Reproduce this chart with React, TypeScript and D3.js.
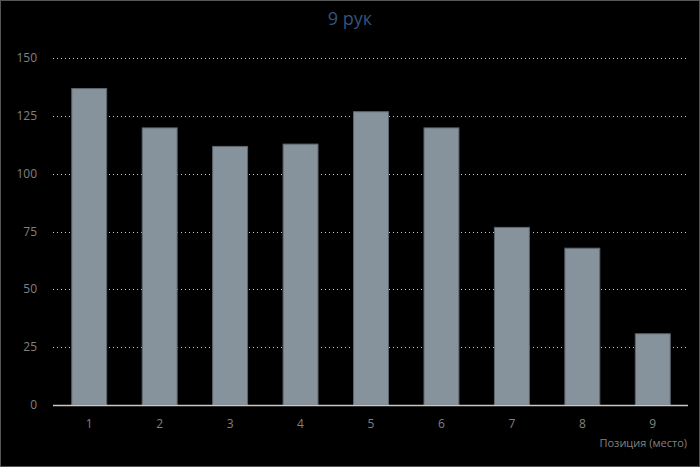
import React from "react";
import * as d3 from "d3";

const categories = ["1", "2", "3", "4", "5", "6", "7", "8", "9"];
const values = [137, 120, 112, 113, 127, 120, 77, 68, 31];
const yTicks = [0, 25, 50, 75, 100, 125, 150];
const title = "9 рук";
const xTitle = "Позиция (место)";

export default function App() {
  const W = 700, H = 467;
  const x = d3.scaleBand<string>().domain(categories).range([54, 688]).paddingInner(0.49).paddingOuter(0.245);
  const y = d3.scaleLinear().domain([0, 150]).range([405, 58]);
  const font = "'Open Sans', 'DejaVu Sans', sans-serif";
  return (
    <svg width={W} height={H} style={{ position: "absolute", left: 0, top: 0, display: "block" }}>
      <rect x={0} y={0} width={W} height={H} fill="#000" />
      <rect x={0.5} y={0.5} width={W - 1} height={H - 1} fill="none" stroke="#555" />
      <text x={350} y={25} textAnchor="middle" fill="#36527a" fontFamily={font} fontSize={18}>{title}</text>
      {yTicks.filter(t => t > 0).map(t => (
        <line key={t} x1={53} x2={686} y1={Math.round(y(t)) + 0.5} y2={Math.round(y(t)) + 0.5}
          stroke="#c8c8c8" strokeDasharray="1,3" strokeWidth={1} />
      ))}
      {yTicks.map(t => (
        <text key={"l" + t} x={37} y={y(t) + 4} textAnchor="end" fill="#808080" fontFamily={font} fontSize={12}>{t}</text>
      ))}
      {categories.map((c, i) => (
        <rect key={c} x={(x(c) as number) + 0.5} y={y(values[i]) + 0.5} width={x.bandwidth() - 1}
          height={405 - y(values[i]) - 0.5} fill="#87939c" stroke="#5f676e" strokeWidth={1} />
      ))}
      <line x1={53} x2={688} y1={405.5} y2={405.5} stroke="#c8c8c8" strokeWidth={1.5} />
      {categories.map(c => (
        <text key={"x" + c} x={(x(c) as number) + x.bandwidth() / 2} y={428} textAnchor="middle"
          fill="#808080" fontFamily={font} fontSize={12}>{c}</text>
      ))}
      <text x={687} y={447} textAnchor="end" fill="#808080" fontFamily={font} fontSize={11}>{xTitle}</text>
    </svg>
  );
}
